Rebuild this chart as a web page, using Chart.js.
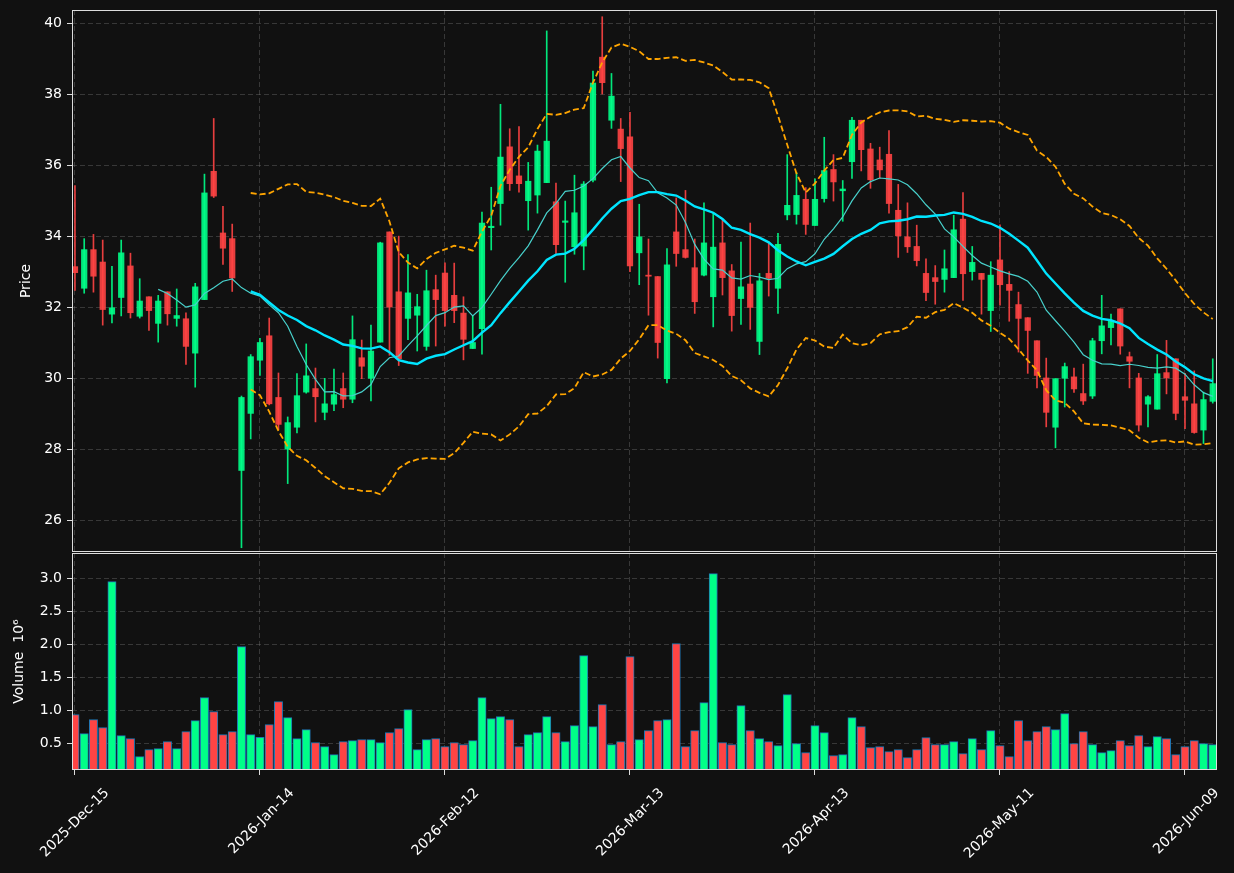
<!DOCTYPE html>
<html>
<head>
<meta charset="utf-8">
<script src="https://cdn.jsdelivr.net/npm/chart.js@4.4.0/dist/chart.umd.min.js"></script>
<style>
  html, body { margin: 0; padding: 0; background: #111111; }
  #wrap { position: relative; width: 1234px; height: 873px; }
  #priceCanvas { position: absolute; left: 0; top: 0; }
  #volCanvas { position: absolute; left: 0; top: 553px; }
</style>
</head>
<body>
<div id="wrap">
  <canvas id="priceCanvas" width="1234" height="553"></canvas>
  <canvas id="volCanvas" width="1234" height="320"></canvas>
</div>
<script>
// OHLC, one value per trading day (index 0 = 2025-12-15)
const opens = [
  33.15, 32.54, 33.63, 33.28, 31.81, 32.28, 33.17, 31.75, 32.30, 31.55,
  32.44, 31.69, 31.68, 30.71, 32.22, 35.84, 34.10, 33.94, 27.40, 29.01,
  30.51, 31.20, 29.46, 28.00, 28.62, 29.61, 29.71, 29.04, 29.27, 29.71,
  29.41, 30.58, 30.00, 31.02, 34.13, 32.44, 31.69, 31.78, 30.90, 32.50,
  32.97, 32.34, 31.84, 30.84, 31.40, 34.25, 34.93, 36.53, 35.71, 35.01,
  35.17, 35.52, 34.98, 34.40, 33.71, 33.73, 35.59, 39.06, 37.28, 37.03,
  36.81, 33.54, 32.91, 32.87, 29.99, 34.13, 33.63, 33.12, 32.91, 32.30,
  33.82, 33.03, 32.25, 32.66, 31.04, 32.96, 32.54, 34.61, 34.62, 35.05,
  34.31, 35.07, 35.89, 35.29, 36.11, 37.28, 36.47, 36.16, 36.32, 34.74,
  33.99, 33.72, 32.96, 32.84, 32.79, 32.84, 34.49, 33.01, 32.96, 31.91,
  33.34, 32.65, 32.08, 31.71, 31.06, 30.01, 28.62, 30.00, 30.04, 29.57,
  29.50, 31.06, 31.43, 31.96, 30.61, 30.01, 29.27, 29.13, 30.16, 30.55,
  29.48, 29.28, 28.54, 29.35
];
const highs = [
  35.44, 33.94, 34.06, 33.90, 33.16, 33.90, 33.53, 32.81, 32.30, 32.34,
  32.44, 32.52, 31.85, 32.68, 35.76, 37.33, 34.85, 34.35, 29.50, 30.67,
  31.13, 31.70, 30.15, 28.91, 30.13, 30.97, 30.29, 30.00, 30.26, 30.15,
  31.76, 31.08, 31.50, 33.84, 34.13, 34.01, 33.49, 32.37, 33.05, 32.91,
  33.26, 33.25, 32.30, 31.75, 34.69, 35.39, 37.73, 37.04, 37.10, 36.09,
  36.58, 39.80, 35.51, 35.00, 35.73, 35.55, 38.67, 40.20, 38.60, 37.33,
  37.50, 34.91, 33.93, 32.87, 33.66, 35.09, 35.30, 33.93, 34.95, 34.66,
  34.49, 33.21, 33.84, 34.38, 32.96, 33.84, 34.09, 36.31, 35.81, 35.38,
  35.63, 36.80, 36.31, 35.58, 37.36, 37.28, 36.63, 36.52, 36.99, 35.47,
  34.95, 34.32, 33.37, 33.18, 33.62, 34.60, 35.24, 33.72, 32.96, 33.29,
  34.33, 33.01, 32.43, 31.71, 31.06, 30.57, 29.99, 30.43, 30.29, 30.40,
  31.13, 32.34, 31.81, 31.96, 30.74, 30.14, 29.51, 30.67, 31.07, 30.55,
  30.14, 30.21, 29.61, 30.55
];
const lows = [
  32.48, 32.40, 32.43, 31.50, 31.56, 31.76, 31.70, 31.70, 31.35, 31.02,
  31.50, 31.47, 30.39, 29.75, 32.22, 35.10, 33.21, 32.45, 25.22, 28.29,
  30.08, 29.25, 28.55, 27.03, 28.46, 29.58, 28.77, 28.83, 29.09, 29.17,
  29.31, 29.99, 29.36, 31.02, 30.65, 30.36, 31.09, 30.77, 30.79, 30.91,
  31.47, 31.57, 30.52, 30.84, 30.68, 33.62, 34.32, 35.30, 35.25, 34.18,
  34.66, 35.52, 33.52, 32.71, 33.50, 33.06, 35.54, 38.02, 37.05, 35.55,
  33.01, 32.64, 31.78, 30.57, 29.87, 33.16, 33.39, 31.83, 32.89, 31.45,
  32.35, 31.33, 31.52, 31.38, 30.67, 32.32, 31.83, 34.47, 34.35, 34.06,
  34.31, 34.97, 35.00, 34.43, 35.64, 35.85, 35.36, 35.65, 34.66, 33.41,
  33.55, 33.17, 32.19, 32.09, 32.43, 32.84, 32.20, 32.77, 31.81, 31.32,
  32.06, 31.61, 30.74, 30.14, 29.73, 28.63, 28.04, 29.19, 29.60, 29.26,
  29.43, 30.69, 30.94, 30.68, 29.73, 28.51, 28.63, 29.13, 29.56, 28.83,
  28.58, 28.45, 28.16, 29.30
];
const closes = [
  32.98, 33.63, 32.88, 31.94, 31.99, 33.54, 31.85, 32.18, 31.91, 32.18,
  31.82, 31.77, 30.90, 32.58, 35.23, 35.14, 33.67, 32.83, 29.46, 30.61,
  31.01, 29.28, 28.70, 28.75, 29.51, 30.07, 29.48, 29.28, 29.54, 29.41,
  31.09, 30.34, 30.77, 33.82, 32.01, 30.55, 32.41, 32.02, 32.47, 32.22,
  31.91, 31.91, 31.10, 31.01, 34.38, 34.29, 36.24, 35.49, 35.49, 35.56,
  36.41, 36.69, 33.77, 34.44, 34.67, 35.48, 38.33, 38.34, 37.96, 36.48,
  33.17, 33.99, 32.88, 31.01, 33.20, 33.52, 33.41, 32.16, 33.82, 33.70,
  32.84, 31.77, 32.58, 32.00, 32.75, 32.82, 33.78, 34.88, 35.16, 34.34,
  35.05, 35.86, 35.54, 35.34, 37.28, 36.45, 35.60, 35.88, 34.93, 34.02,
  33.71, 33.32, 32.42, 32.73, 33.09, 34.19, 32.95, 33.27, 32.79, 32.91,
  32.64, 32.48, 31.69, 31.35, 30.08, 29.04, 29.99, 30.33, 29.70, 29.36,
  31.06, 31.48, 31.62, 30.91, 30.48, 28.68, 29.48, 30.13, 30.01, 29.01,
  29.38, 28.47, 29.40, 29.85
];
// volume in millions
const volumes = [
  0.935, 0.647, 0.859, 0.738, 2.950, 0.616, 0.571, 0.298, 0.404, 0.419,
  0.525, 0.419, 0.677, 0.843, 1.192, 0.980, 0.631, 0.677, 1.965, 0.631,
  0.591, 0.783, 1.131, 0.889, 0.571, 0.707, 0.510, 0.450, 0.328, 0.525,
  0.541, 0.556, 0.556, 0.510, 0.662, 0.722, 1.010, 0.404, 0.556, 0.571,
  0.450, 0.510, 0.480, 0.541, 1.192, 0.874, 0.904, 0.859, 0.450, 0.631,
  0.662, 0.904, 0.662, 0.525, 0.768, 1.828, 0.753, 1.086, 0.480, 0.525,
  1.813, 0.556, 0.692, 0.843, 0.859, 2.010, 0.450, 0.692, 1.116, 3.071,
  0.510, 0.480, 1.071, 0.692, 0.571, 0.525, 0.465, 1.238, 0.495, 0.359,
  0.768, 0.662, 0.313, 0.328, 0.889, 0.753, 0.435, 0.450, 0.374, 0.404,
  0.283, 0.404, 0.586, 0.480, 0.480, 0.525, 0.344, 0.571, 0.404, 0.692,
  0.465, 0.298, 0.843, 0.541, 0.677, 0.753, 0.707, 0.950, 0.495, 0.677,
  0.480, 0.359, 0.389, 0.541, 0.465, 0.616, 0.450, 0.601, 0.571, 0.328,
  0.450, 0.541, 0.495, 0.480
];

const tickPositions = [0, 20, 40, 60, 80, 100, 120];
const tickLabels = ['2025-Dec-15', '2026-Jan-14', '2026-Feb-12', '2026-Mar-13',
                    '2026-Apr-13', '2026-May-11', '2026-Jun-09'];
const priceTicks = [26, 28, 30, 32, 34, 36, 38, 40];
const volumeTicks = [0.5, 1.0, 1.5, 2.0, 2.5, 3.0];

// indicadores calculados a partir de los cierres
function rollingMean(arr, n) {
  return arr.map((_, i) => {
    if (i < n - 1) return null;
    let s = 0;
    for (let k = i - n + 1; k <= i; k++) s += arr[k];
    return s / n;
  });
}
function rollingStd(arr, n) {
  const m = rollingMean(arr, n);
  return arr.map((_, i) => {
    if (m[i] === null) return null;
    let s = 0;
    for (let k = i - n + 1; k <= i; k++) s += (arr[k] - m[i]) ** 2;
    return Math.sqrt(s / (n - 1));
  });
}
const ma10 = rollingMean(closes, 10);
const ma20 = rollingMean(closes, 20);
const sd20 = rollingStd(closes, 20);
const bbUpper = ma20.map((v, i) => v === null ? null : v + 2 * sd20[i]);
const bbLower = ma20.map((v, i) => v === null ? null : v - 2 * sd20[i]);

const UP_CANDLE = 'rgba(0,255,136,0.9)';
const DOWN_CANDLE = 'rgba(255,68,68,0.9)';
const UP_VOL = '#00ff88';
const DOWN_VOL = '#ff4444';
const GRID = 'rgba(128,128,128,0.35)';
const FG = '#ffffff';
const FONT = { family: 'DejaVu Sans', size: 14 };
const X_MIN = -0.32, X_MAX = 123.46;

const isUp = closes.map((c, i) => c >= opens[i]);
const candleColors = isUp.map(u => u ? UP_CANDLE : DOWN_CANDLE);
const volColors = isUp.map(u => u ? UP_VOL : DOWN_VOL);
const pts = arr => arr.map((v, i) => ({ x: i, y: v }));

const frame = {
  id: 'frame',
  afterDraw(chart) {
    const { ctx, chartArea: a } = chart;
    ctx.save();
    ctx.strokeStyle = '#dddddd';
    ctx.lineWidth = 1;
    ctx.strokeRect(a.left + 0.5, a.top + 0.5, a.right - a.left - 1, a.bottom - a.top - 1);
    ctx.restore();
  }
};

const setXTicks = s => { s.ticks = tickPositions.map(v => ({ value: v })); };
// fija el tamaño del eje y quita el relleno extra que Chart.js reserva para las etiquetas
const fixAxis = (w, h) => s => {
  if (w !== null) s.width = w;
  if (h !== null) s.height = h;
  s.paddingTop = 0; s.paddingBottom = 0; s.paddingLeft = 0; s.paddingRight = 0;
};

new Chart(document.getElementById('priceCanvas'), {
  type: 'bar',
  data: {
    datasets: [
      { type: 'line', data: pts(bbUpper), borderColor: '#ffa500', borderWidth: 1.8,
        borderDash: [6, 3], pointRadius: 0, order: 3 },
      { type: 'line', data: pts(bbLower), borderColor: '#ffa500', borderWidth: 1.8,
        borderDash: [6, 3], pointRadius: 0, order: 3 },
      { type: 'line', data: pts(ma10), borderColor: '#48d1cc', borderWidth: 1.2,
        pointRadius: 0, order: 2 },
      { type: 'line', data: pts(ma20), borderColor: '#00e5ff', borderWidth: 2.4,
        pointRadius: 0, order: 1 },
      { type: 'bar', data: lows.map((l, i) => ({ x: i, y: [l, highs[i]] })),
        backgroundColor: candleColors, barThickness: 1, grouped: false, order: 6 },
      { type: 'bar', data: opens.map((o, i) => ({ x: i, y: [o, closes[i]] })),
        backgroundColor: candleColors, barThickness: 5.6, grouped: false, order: 5 }
    ]
  },
  options: {
    responsive: false,
    animation: false,
    layout: { padding: { top: 10, right: 17, left: 0, bottom: 1 } },
    plugins: { legend: { display: false }, tooltip: { enabled: false } },
    scales: {
      x: {
        type: 'linear', min: X_MIN, max: X_MAX, offset: false,
        afterBuildTicks: setXTicks,
        afterFit: fixAxis(null, 0),
        ticks: { display: false },
        grid: { color: GRID, drawTicks: false, offset: false },
        border: { display: false, dash: [5, 3] }
      },
      y: {
        min: 25.10, max: 40.39,
        afterBuildTicks: s => { s.ticks = priceTicks.map(v => ({ value: v })); },
        afterFit: fixAxis(72, null),
        ticks: { color: FG, font: FONT, padding: 5, callback: v => String(v) },
        grid: { color: GRID, tickColor: '#dddddd', tickLength: 5 },
        border: { display: false, dash: [5, 3] },
        title: { display: true, text: 'Price', color: FG, font: FONT, padding: { top: 18, bottom: 0 } }
      }
    }
  },
  plugins: [frame]
});

new Chart(document.getElementById('volCanvas'), {
  type: 'bar',
  data: {
    datasets: [{
      data: volumes.map((v, i) => ({ x: i, y: v })),
      backgroundColor: volColors,
      borderColor: '#1f77b4',
      borderWidth: 1,
      barThickness: 8.3
    }]
  },
  options: {
    responsive: false,
    animation: false,
    layout: { padding: { top: 0, right: 17, left: 0, bottom: 0 } },
    plugins: { legend: { display: false }, tooltip: { enabled: false } },
    scales: {
      x: {
        type: 'linear', min: X_MIN, max: X_MAX, offset: false,
        afterBuildTicks: setXTicks,
        afterFit: fixAxis(null, 103),
        ticks: {
          color: FG, font: FONT, minRotation: 45, maxRotation: 45, autoSkip: false,
          padding: 10, labelOffset: 32,
          callback: v => tickLabels[tickPositions.indexOf(v)] || ''
        },
        grid: { color: GRID, tickColor: '#dddddd', tickLength: 5, offset: false },
        border: { display: false, dash: [5, 3] }
      },
      y: {
        min: 0.095, max: 3.383,
        afterBuildTicks: s => { s.ticks = volumeTicks.map(v => ({ value: v })); },
        afterFit: fixAxis(72, null),
        ticks: { color: FG, font: FONT, padding: 5, callback: v => v.toFixed(1) },
        grid: { color: GRID, tickColor: '#dddddd', tickLength: 5 },
        border: { display: false, dash: [5, 3] },
        title: { display: true, text: 'Volume  10⁶', color: FG, font: FONT, padding: { top: 11, bottom: 0 } }
      }
    }
  },
  plugins: [frame]
});
</script>
</body>
</html>
